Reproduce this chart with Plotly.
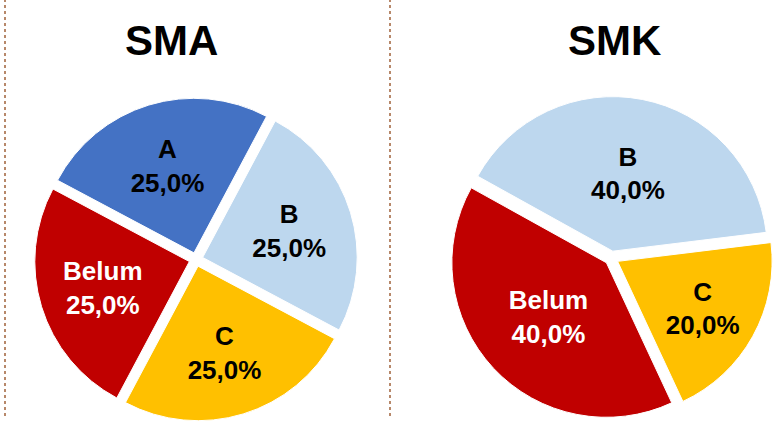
import plotly.graph_objects as go

W, H = 773, 421

sma_labels = ["A", "B", "C", "Belum"]
sma_values = [25, 25, 25, 25]
sma_colors = ["#4472C4", "#BDD7EE", "#FFC000", "#C00000"]
sma_text_colors = ["black", "black", "black", "white"]

smk_labels = ["B", "C", "Belum"]
smk_values = [40, 20, 40]
smk_colors = ["#BDD7EE", "#FFC000", "#C00000"]
smk_text_colors = ["black", "black", "white"]

titles = ["SMA", "SMK"]

FONT = "Liberation Sans, Arial"


def px(x):
    return x / W


def py(y):
    return 1 - y / H


def px_dom(cx, cy, half):
    return dict(x=[max(0, px(cx - half)), min(1, px(cx + half))],
                y=[max(0, py(cy + half)), min(1, py(cy - half))])


fig = go.Figure()
fig.add_trace(go.Pie(
    labels=sma_labels, values=sma_values, sort=False, direction="clockwise",
    rotation=-62, pull=0.045,
    marker=dict(colors=sma_colors, line=dict(color="white", width=1)),
    texttemplate="<b>%{label}<br>%{percent:.1%}</b>", textposition="inside",
    insidetextorientation="horizontal",
    textfont=dict(family=FONT, size=26, color=sma_text_colors),
    domain=px_dom(196, 259.5, 161.5), showlegend=False, hoverinfo="label+percent",
))
fig.add_trace(go.Pie(
    labels=smk_labels, values=smk_values, sort=False, direction="clockwise",
    rotation=-61, pull=0.045,
    marker=dict(colors=smk_colors, line=dict(color="white", width=1)),
    texttemplate="<b>%{label}<br>%{percent:.1%}</b>", textposition="inside",
    insidetextorientation="horizontal",
    textfont=dict(family=FONT, size=26, color=smk_text_colors),
    domain=px_dom(611.5, 258, 161.5), showlegend=False, hoverinfo="label+percent",
))

annotations = [
    dict(text="<b>%s</b>" % titles[0], x=px(171), y=py(41), xref="paper", yref="paper",
         showarrow=False, font=dict(family=FONT, size=42, color="black"),
         xanchor="center", yanchor="middle"),
    dict(text="<b>%s</b>" % titles[1], x=px(614), y=py(41), xref="paper", yref="paper",
         showarrow=False, font=dict(family=FONT, size=42, color="black"),
         xanchor="center", yanchor="middle"),
]

shapes = [
    dict(type="line", xref="paper", yref="paper", x0=px(5), x1=px(5), y0=py(416), y1=1,
         line=dict(color="#A0623A", width=1.5, dash="3px,3px")),
    dict(type="line", xref="paper", yref="paper", x0=px(390), x1=px(390), y0=py(416), y1=1,
         line=dict(color="#A0623A", width=1.5, dash="3px,3px")),
]

fig.update_layout(
    width=W, height=H, autosize=False,
    margin=dict(l=0, r=0, t=0, b=0),
    paper_bgcolor="white", plot_bgcolor="white",
    separators=",.",
    annotations=annotations, shapes=shapes,
    uniformtext=dict(minsize=26, mode="show"),
)

fig.write_html("out.html", config={"displayModeBar": False},
               post_script="document.body.style.margin='0';document.body.style.overflow='hidden';")
